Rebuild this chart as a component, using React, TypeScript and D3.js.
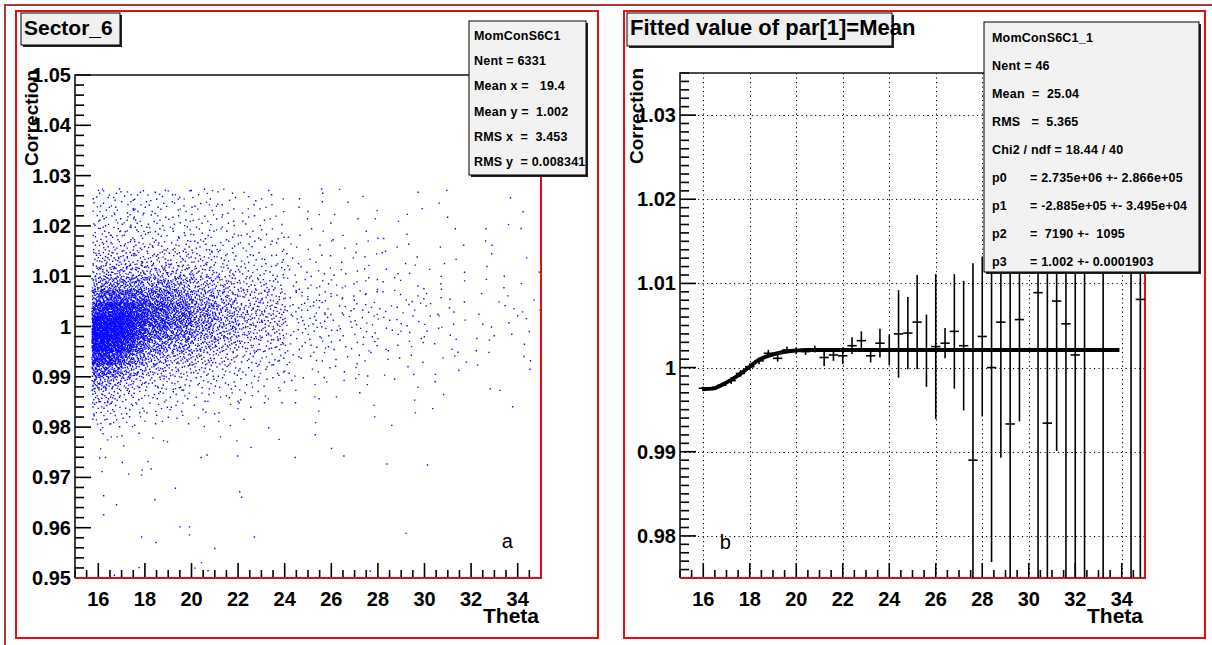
import React, { useEffect, useRef } from 'react';
import * as d3 from 'd3';

// ---- pad a: Sector_6 scatter (TH2 drawn as dots), counts per cell
const scatThetaEdges = [15.7, 16, 16.5, 17, 17.5, 18, 19, 20, 21, 22, 23, 24, 26, 28, 30, 32, 35];
const scatCorrEdges = [1.0275, 1.025, 1.0225, 1.02, 1.0175, 1.015, 1.0125, 1.01, 1.0075, 1.005, 1.0025, 1.0,
  0.9975, 0.995, 0.9925, 0.99, 0.9875, 0.985, 0.9825, 0.98];
// one row per theta cell, counts from high correction to low
const scatCounts = [
  [3, 3, 4, 4, 5, 7, 10, 16, 28, 48, 75, 90, 80, 55, 32, 18, 10, 6, 4],
  [5, 5, 6, 7, 9, 13, 20, 32, 60, 100, 145, 160, 135, 90, 50, 26, 14, 8, 6],
  [5, 5, 6, 7, 9, 13, 20, 34, 62, 105, 140, 140, 115, 75, 42, 20, 11, 6, 5],
  [4, 5, 6, 7, 9, 13, 20, 34, 60, 95, 115, 105, 80, 50, 28, 15, 8, 5, 4],
  [4, 5, 6, 7, 9, 12, 20, 33, 55, 82, 92, 78, 55, 35, 20, 11, 6, 4, 3],
  [8, 8, 9, 11, 14, 21, 35, 58, 95, 130, 132, 105, 72, 46, 28, 16, 10, 6, 4],
  [7, 7, 8, 10, 13, 19, 30, 50, 75, 100, 100, 80, 55, 35, 22, 13, 8, 5, 3],
  [6, 6, 7, 9, 12, 16, 24, 36, 52, 68, 70, 58, 40, 26, 16, 10, 6, 4, 2],
  [5, 5, 6, 7, 9, 12, 17, 25, 36, 45, 46, 40, 28, 18, 12, 8, 5, 3, 2],
  [4, 4, 5, 6, 7, 9, 12, 17, 24, 30, 30, 26, 20, 13, 9, 6, 4, 2, 1],
  [3, 3, 4, 5, 6, 7, 10, 14, 19, 24, 24, 21, 16, 10, 7, 5, 3, 2, 1],
  [3, 3, 3, 4, 5, 7, 9, 12, 15, 18, 18, 16, 12, 9, 6, 4, 3, 2, 1],
  [2, 2, 3, 3, 4, 5, 6, 8, 10, 12, 12, 11, 9, 6, 5, 3, 2, 1, 1],
  [1, 1, 2, 2, 3, 3, 4, 5, 7, 8, 8, 7, 6, 4, 3, 2, 1, 1, 1],
  [1, 1, 1, 1, 2, 2, 3, 3, 4, 5, 5, 4, 3, 3, 2, 1, 1, 1, 0],
  [1, 1, 1, 2, 2, 2, 3, 3, 4, 5, 5, 4, 3, 3, 2, 1, 1, 1, 0],
];
// single dots in the low tail
const tailTheta = [16.07, 16.17, 16.07, 16.03, 16.28, 16.13, 16.2, 16.2, 16.75, 16.37, 16.53, 16.78, 16.99, 17.0,
  17.06, 17.28, 17.72, 17.86, 17.83, 17.83, 18.1, 18.24, 18.32, 18.4, 18.44, 18.77, 18.94, 19.28, 19.47, 19.88,
  19.88, 20.11, 20.4, 20.38, 20.64, 20.68, 20.97, 21.22, 21.92, 21.95, 22.04, 22.12, 22.53, 22.67, 23.73, 24.42,
  25.28, 25.98, 26.51, 28.35, 29.18, 30.1, 27.64, 16.66, 17.72];
const tailCorr = [0.9796, 0.9788, 0.9758, 0.974, 0.9741, 0.9713, 0.9665, 0.9627, 0.9647, 0.9776, 0.9782, 0.9782,
  0.9784, 0.9731, 0.9764, 0.9708, 0.9789, 0.9716, 0.9706, 0.9583, 0.9733, 0.9718, 0.978, 0.9657, 0.9572, 0.9774,
  0.9772, 0.968, 0.9603, 0.9603, 0.9587, 0.9521, 0.9532, 0.9741, 0.9746, 0.9516, 0.956, 0.9782, 0.9774, 0.9744,
  0.9673, 0.9662, 0.9761, 0.9583, 0.9777, 0.9741, 0.9786, 0.9759, 0.9744, 0.9728, 0.959, 0.9726, 0.9515, 0.9507,
  0.9522];

// ---- pad b: fitted mean per theta slice
const sliceTheta = [16.0, 16.4, 16.8, 17.2, 17.6, 18.0, 18.4, 18.8, 19.2, 19.6, 20.0, 20.4, 20.8, 21.2, 21.6, 22.0,
  22.4, 22.8, 23.2, 23.6, 24.0, 24.4, 24.8, 25.2, 25.6, 26.0, 26.4, 26.8, 27.2, 27.6, 28.0, 28.4, 28.8, 29.2, 29.6,
  30.4, 30.8, 31.2, 31.6, 32.0, 32.4, 33.2, 34.4, 34.8];
const sliceMean = [0.99755, 0.99755, 0.9979, 0.99845, 0.9993, 1.0001, 1.0008, 1.0017, 1.0011, 1.0021, 1.002, 1.0019,
  1.0022, 1.0012, 1.0015, 1.0014, 1.0026, 1.0032, 1.0014, 1.0029, 1.0021, 1.004, 1.0041, 1.0054, 1.002, 1.0025,
  1.0029, 1.0043, 1.0026, 0.989, 1.0037, 1.0, 1.0054, 0.9933, 1.0057, 1.0089, 0.9934, 1.0079, 1.0052, 1.0015,
  1.016, 1.013, 1.02, 1.0081];
const sliceErr = [0.0002, 0.0002, 0.0002, 0.0004, 0.0004, 0.0004, 0.0004, 0.0004, 0.0004, 0.0004, 0.0004, 0.0004,
  0.0004, 0.001, 0.0007, 0.001, 0.001, 0.0011, 0.0008, 0.0017, 0.0018, 0.0052, 0.0043, 0.0056, 0.0043, 0.0086,
  0.0018, 0.0068, 0.0077, 0.0234, 0.0095, 0.0231, 0.0161, 0.022, 0.0121, 0.036, 0.025, 0.0178, 0.032, 0.03, 0.05,
  0.05, 0.05, 0.035];
const sliceWidth = 0.4;
// fitted function as drawn
const fitTheta = [15.95, 16.4, 16.8, 17.2, 17.6, 18.0, 18.4, 18.8, 19.2, 19.6, 20.0, 20.4, 20.8, 33.9];
const fitMean = [0.99743, 0.9975, 0.99794, 0.99854, 0.99925, 1.00012, 1.00092, 1.00139, 1.0017, 1.0019, 1.00202,
  1.0021, 1.0021, 1.0021];

// ---- axes and boxes
const thetaTicks = [16, 18, 20, 22, 24, 26, 28, 30, 32, 34];
const corrTicksA = [0.95, 0.96, 0.97, 0.98, 0.99, 1.0, 1.01, 1.02, 1.03, 1.04, 1.05];
const corrTicksB = [0.98, 0.99, 1.0, 1.01, 1.02, 1.03];
const statsA = ['MomConS6C1', 'Nent = 6331', 'Mean x =   19.4', 'Mean y =  1.002', 'RMS x  =  3.453', 'RMS y  = 0.008341'];
const statsBHead = ['MomConS6C1_1', 'Nent = 46', 'Mean  =  25.04', 'RMS   =  5.365', 'Chi2 / ndf = 18.44 / 40'];
const statsBPar = ['p0', 'p1', 'p2', 'p3'];
const statsBVal = ['= 2.735e+06 +- 2.866e+05', '= -2.885e+05 +- 3.495e+04', '=  7190 +-  1095', '= 1.002 +- 0.0001903'];

const FONT = '"Liberation Sans", Arial, Helvetica, sans-serif';

// low-discrepancy placement of dots inside a cell
function halton(i: number, b: number) {
  let f = 1, r = 0;
  while (i > 0) { f /= b; r += f * (i % b); i = Math.floor(i / b); }
  return r;
}
const frac = (v: number) => v - Math.floor(v);

function corrLabel(v: number) {
  return Math.abs(v - 1) < 1e-9 ? '1' : d3.format('.2f')(v);
}

export default function App() {
  const ref = useRef<SVGSVGElement>(null);

  useEffect(() => {
    const svg = d3.select(ref.current);
    svg.selectAll('*').remove();
    svg.append('rect').attr('width', 1212).attr('height', 645).attr('fill', '#fff');

    // canvas border and pad borders
    svg.append('path').attr('d', 'M5,645V5H1212').attr('fill', 'none').attr('stroke', '#a83a3a').attr('stroke-width', 2);
    svg.append('rect').attr('x', 16).attr('y', 11).attr('width', 582).attr('height', 627)
      .attr('fill', 'none').attr('stroke', '#e01010').attr('stroke-width', 2);
    svg.append('rect').attr('x', 624).attr('y', 11).attr('width', 581).attr('height', 627)
      .attr('fill', 'none').attr('stroke', '#e01010').attr('stroke-width', 2);

    const defs = svg.append('defs');

    function drawAxes(g: any, x: any, y: any, yTicks: number[], frame: number[], grid: boolean, clipId: string) {
      const [x0, x1, y0, y1] = frame;
      defs.append('clipPath').attr('id', clipId).append('rect')
        .attr('x', x0).attr('y', y0).attr('width', x1 - x0).attr('height', y1 - y0);
      if (grid) {
        const gg = g.append('g').attr('stroke', '#000').attr('stroke-width', 1).attr('stroke-dasharray', '1.2,3.3');
        gg.selectAll('.gx').data(thetaTicks).join('line').attr('class', 'gx')
          .attr('x1', (d: number) => Math.round(x(d)) + 0.5).attr('x2', (d: number) => Math.round(x(d)) + 0.5)
          .attr('y1', y0).attr('y2', y1);
        gg.selectAll('.gy').data(yTicks).join('line').attr('class', 'gy')
          .attr('y1', (d: number) => Math.round(y(d)) + 0.5).attr('y2', (d: number) => Math.round(y(d)) + 0.5)
          .attr('x1', x0).attr('x2', x1);
      }
      const tk = g.append('g').attr('stroke', '#000').attr('stroke-width', 1.6);
      tk.selectAll('.mx').data(x.ticks(40)).join('line').attr('class', 'mx')
        .attr('x1', (d: number) => x(d)).attr('x2', (d: number) => x(d))
        .attr('y1', y1).attr('y2', (d: number) => y1 - (thetaTicks.includes(d) ? 15 : 8));
      tk.selectAll('.my').data(y.ticks(50)).join('line').attr('class', 'my')
        .attr('y1', (d: number) => y(d)).attr('y2', (d: number) => y(d))
        .attr('x1', x0).attr('x2', (d: number) => x0 + (yTicks.some(t => Math.abs(t - d) < 1e-6) ? 16 : 9));
      g.append('path').attr('d', `M${x0},${y1}V${y0}H${x1}`).attr('fill', 'none').attr('stroke', '#111').attr('stroke-width', 1.6);
      g.append('path').attr('d', `M${x0},${y1}H${x1}V${y0}`).attr('fill', 'none').attr('stroke', '#e01010').attr('stroke-width', 2);

      const lab = g.append('g').attr('font-family', FONT).attr('font-weight', 'bold').attr('font-size', 20).attr('fill', '#000');
      lab.selectAll('.lx').data(thetaTicks).join('text').attr('class', 'lx')
        .attr('x', (d: number) => x(d)).attr('y', y1 + 28).attr('text-anchor', 'middle').text((d: number) => d);
      lab.selectAll('.ly').data(yTicks).join('text').attr('class', 'ly')
        .attr('x', x0 - 4).attr('y', (d: number) => y(d) + 7).attr('text-anchor', 'end').text(corrLabel);
      lab.append('text').attr('x', x1 - 2).attr('y', y1 + 45).attr('text-anchor', 'end').attr('font-size', 21).text('Theta');
      lab.append('text').attr('transform', `translate(${x0 - 37},${y0 + 43}) rotate(-90)`)
        .attr('text-anchor', 'middle').attr('font-size', 19).text('Correction');
    }

    function titleBox(x: number, y: number, w: number, h: number, label: string, size: number) {
      svg.append('rect').attr('x', x + 2).attr('y', y + 2).attr('width', w).attr('height', h).attr('fill', '#222');
      svg.append('rect').attr('x', x).attr('y', y).attr('width', w).attr('height', h)
        .attr('fill', '#f0f0f0').attr('stroke', '#000').attr('stroke-width', 1);
      svg.append('text').attr('x', x + 3).attr('y', y + 22).attr('font-family', FONT).attr('font-weight', 'bold')
        .attr('font-size', size).text(label);
    }

    function statBox(x: number, y: number, w: number, h: number) {
      svg.append('rect').attr('x', x + 2).attr('y', y + 2).attr('width', w).attr('height', h).attr('fill', '#222');
      svg.append('rect').attr('x', x).attr('y', y).attr('width', w).attr('height', h)
        .attr('fill', '#f2f2f2').attr('stroke', '#000').attr('stroke-width', 1);
    }

    // ===== pad a
    const xa = d3.scaleLinear().domain([15, 35]).range([75, 541]);
    const ya = d3.scaleLinear().domain([0.95, 1.05]).range([578, 75]);
    const ga = svg.append('g');

    let path = '';
    let cell = 0;
    scatCounts.forEach((col, c) => {
      col.forEach((n, r) => {
        const t0 = scatThetaEdges[c], t1 = scatThetaEdges[c + 1];
        const v0 = scatCorrEdges[r], v1 = scatCorrEdges[r + 1];
        cell++;
        for (let k = 0; k < n; k++) {
          const u = frac(halton(k + 1 + cell * 7, 2) + cell * 0.6180339);
          const w = frac(halton(k + 1 + cell * 7, 3) + cell * 0.7548777);
          const px = xa(t0 + u * (t1 - t0));
          const py = ya(v0 + w * (v1 - v0));
          path += `M${px.toFixed(1)},${py.toFixed(1)}h1.4v1.4h-1.4z`;
        }
      });
    });
    tailTheta.forEach((t, i) => {
      path += `M${xa(t).toFixed(1)},${ya(tailCorr[i]).toFixed(1)}h1.4v1.4h-1.4z`;
    });
    ga.append('path').attr('d', path).attr('fill', '#0a0aff');

    drawAxes(ga, xa, ya, corrTicksA, [75, 541, 75, 578], false, 'clipA');
    ga.append('text').attr('x', xa(33.55)).attr('y', 548).attr('font-family', FONT).attr('font-size', 20)
      .attr('text-anchor', 'middle').text('a');

    titleBox(21, 13, 99, 32, 'Sector_6', 21);
    statBox(469, 21, 117, 154);
    statsA.forEach((s, i) => {
      svg.append('text').attr('x', 474).attr('y', 40 + i * 25.2).attr('font-family', FONT).attr('font-weight', 'bold')
        .attr('font-size', 12.5).attr('letter-spacing', 0.2).attr('xml:space', 'preserve').style('white-space', 'pre').text(s);
    });

    // ===== pad b
    const xb = d3.scaleLinear().domain([15, 35]).range([680, 1145]);
    const yb = d3.scaleLinear().domain([0.975, 1.035]).range([578, 73]);
    const gb = svg.append('g');
    drawAxes(gb, xb, yb, corrTicksB, [680, 1145, 73, 578], true, 'clipB');

    const pts = gb.append('g').attr('clip-path', 'url(#clipB)').attr('stroke', '#000').attr('stroke-width', 1.6);
    pts.selectAll('.ev').data(sliceTheta).join('line').attr('class', 'ev')
      .attr('x1', (d: number) => xb(d)).attr('x2', (d: number) => xb(d))
      .attr('y1', (d: number, i: number) => yb(sliceMean[i] + sliceErr[i]))
      .attr('y2', (d: number, i: number) => yb(sliceMean[i] - sliceErr[i]));
    pts.selectAll('.eh').data(sliceTheta).join('line').attr('class', 'eh')
      .attr('x1', (d: number) => xb(d - sliceWidth / 2)).attr('x2', (d: number) => xb(d + sliceWidth / 2))
      .attr('y1', (d: number, i: number) => yb(sliceMean[i])).attr('y2', (d: number, i: number) => yb(sliceMean[i]));

    const fitLine = d3.line<number>().x(d => xb(d)).y((d, i) => yb(fitMean[i])).curve(d3.curveMonotoneX);
    gb.append('path').attr('d', fitLine(fitTheta)).attr('fill', 'none').attr('stroke', '#000').attr('stroke-width', 4);
    gb.append('text').attr('x', xb(16.95)).attr('y', 549).attr('font-family', FONT).attr('font-size', 20)
      .attr('text-anchor', 'middle').text('b');

    titleBox(627, 13, 265, 33, 'Fitted value of par[1]=Mean', 22);
    statBox(984, 22, 215, 250);
    const sb = svg.append('g').attr('font-family', FONT).attr('font-weight', 'bold').attr('font-size', 12.5)
      .attr('letter-spacing', 0.2);
    statsBHead.forEach((s, i) => {
      sb.append('text').attr('x', 992).attr('y', 42 + i * 28).attr('xml:space', 'preserve').style('white-space', 'pre').text(s);
    });
    statsBPar.forEach((s, i) => {
      sb.append('text').attr('x', 992).attr('y', 42 + (i + 5) * 28).text(s);
      sb.append('text').attr('x', 1030).attr('y', 42 + (i + 5) * 28).attr('xml:space', 'preserve')
        .style('white-space', 'pre').text(statsBVal[i]);
    });
  }, []);

  return (
    <svg ref={ref} width={1212} height={645} style={{ position: 'absolute', left: 0, top: 0 }} />
  );
}
